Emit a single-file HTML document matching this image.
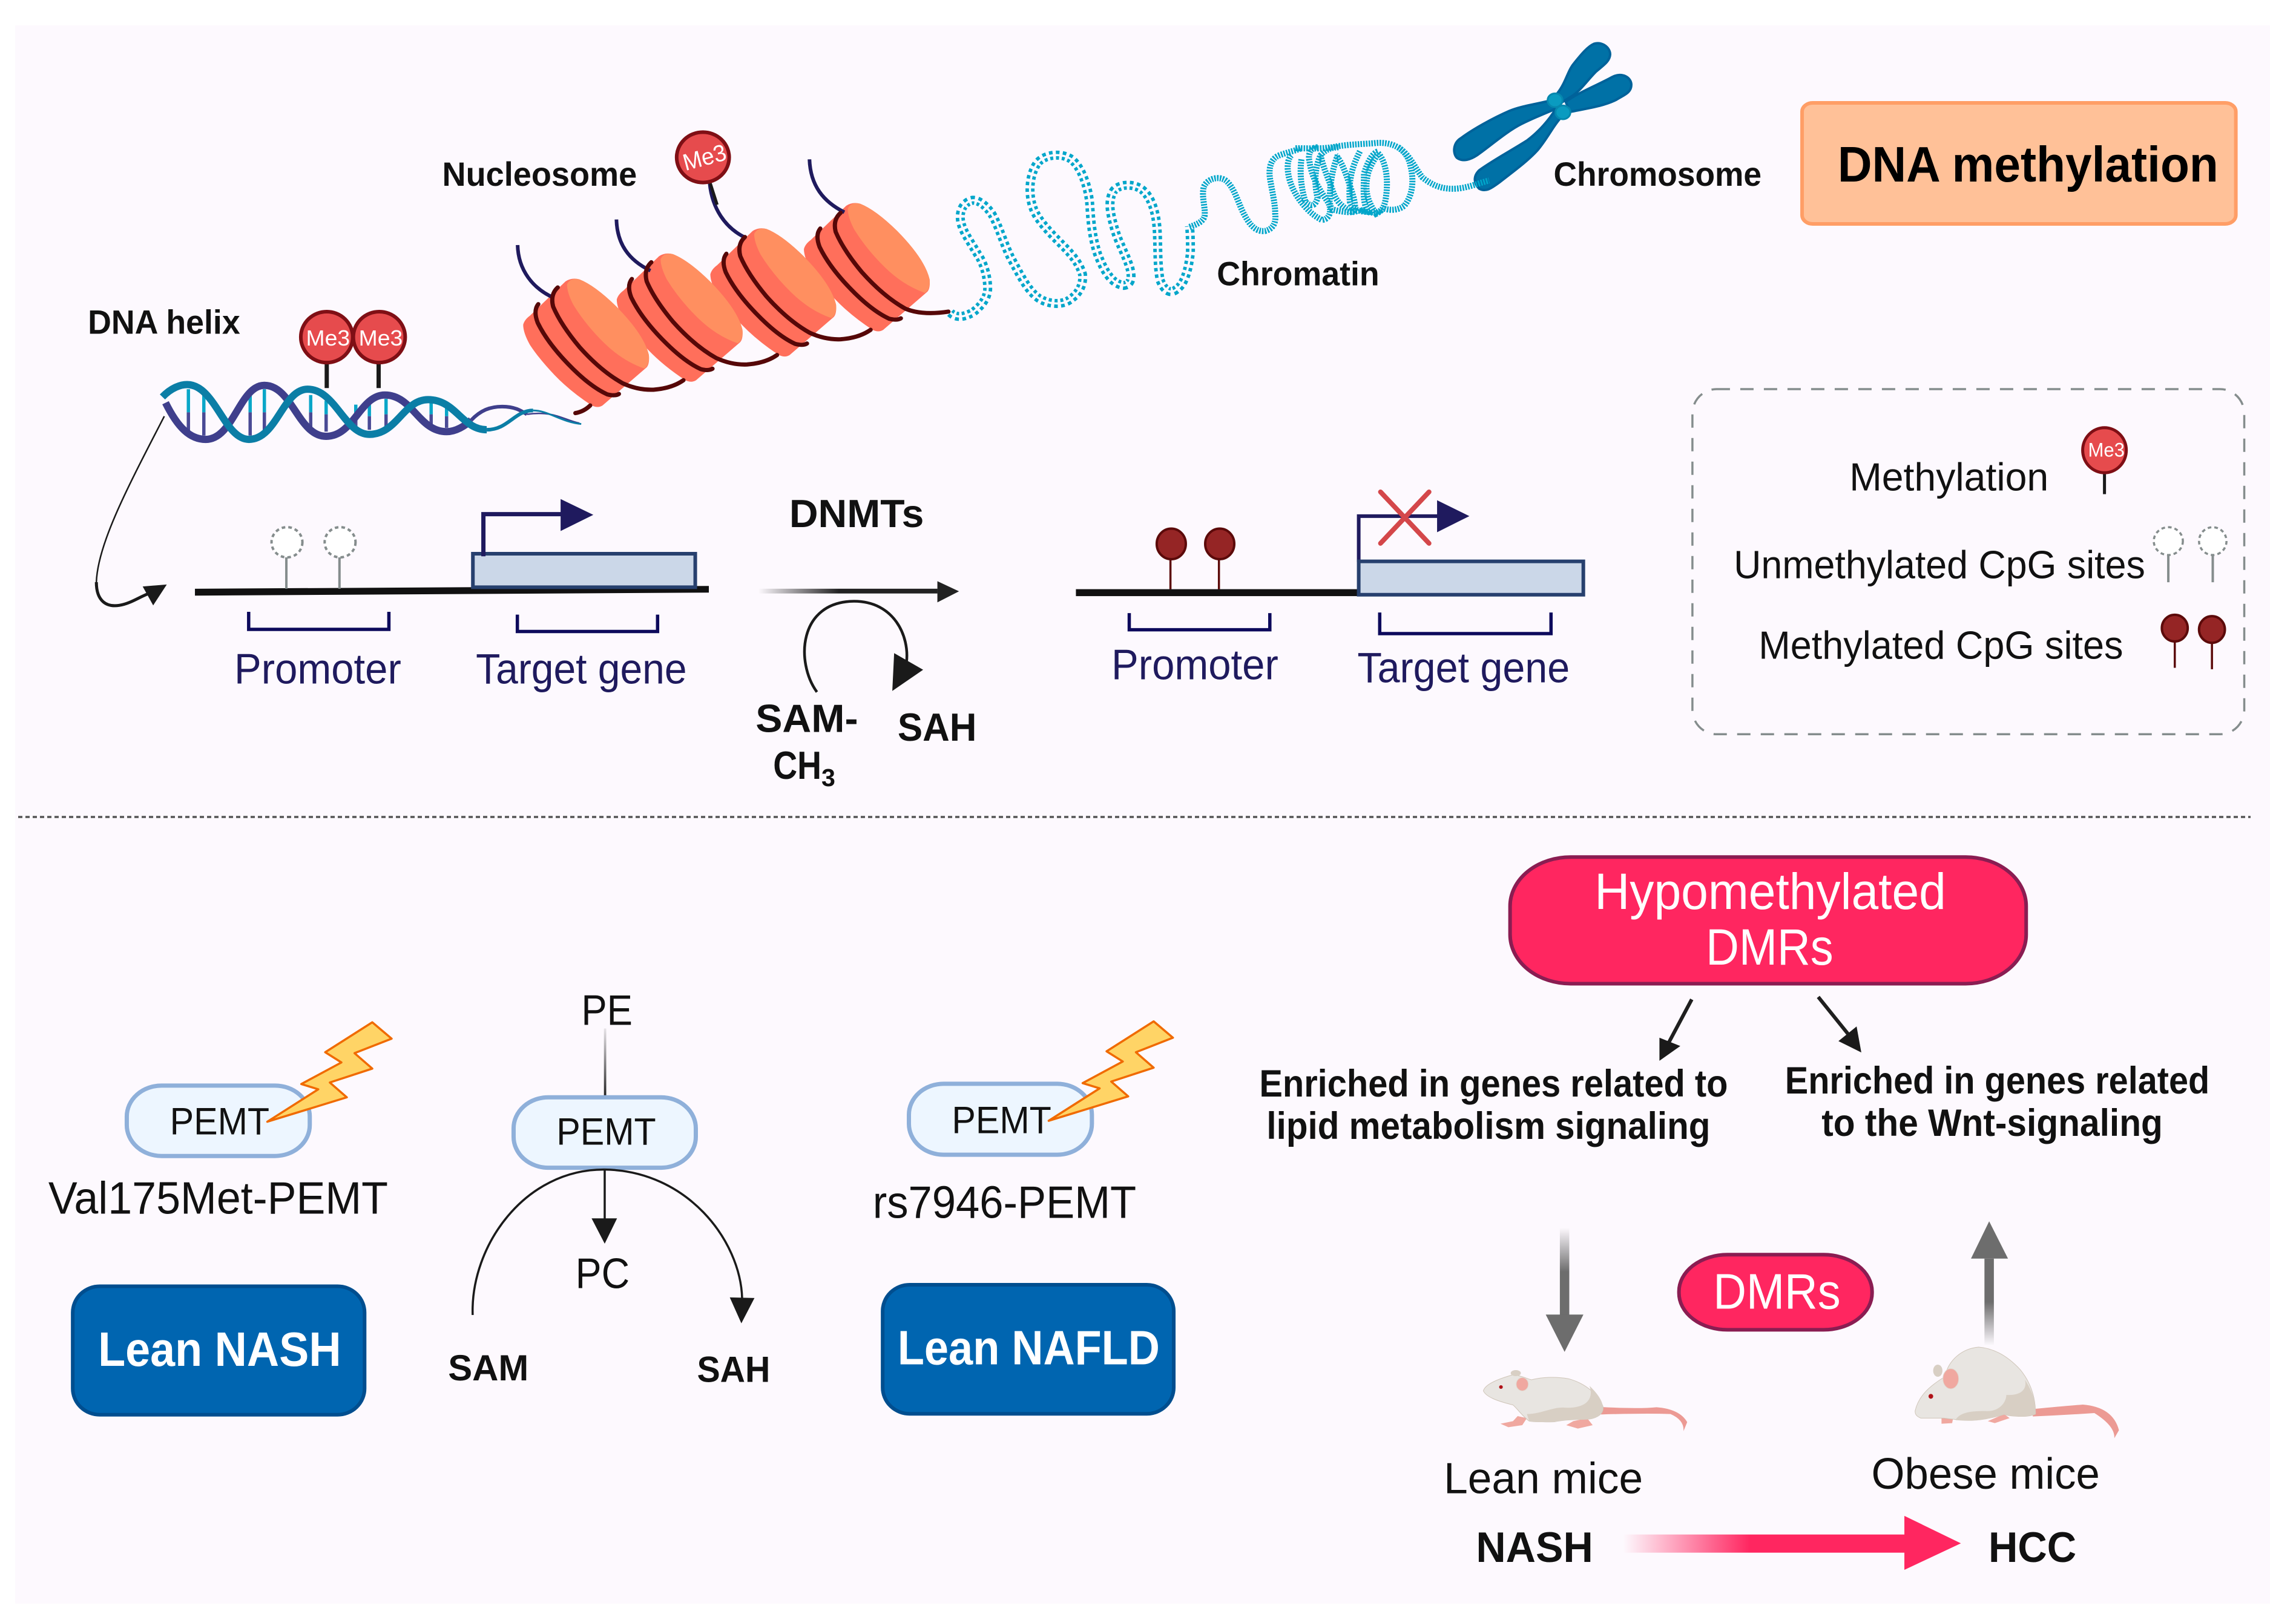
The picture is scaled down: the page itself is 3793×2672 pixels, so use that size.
<!DOCTYPE html>
<html><head><meta charset="utf-8"><style>
html,body{margin:0;padding:0;background:#fff}
svg{display:block}
path,line,rect,ellipse,polygon,polyline,circle{vector-effect:non-scaling-stroke}
text{font-family:"Liberation Sans",sans-serif}
.b{font-weight:bold;fill:#111}
.n{fill:#111}
.v{fill:#1f1a5e}
.w{fill:#fff}
</style></head><body>
<svg xmlns="http://www.w3.org/2000/svg" width="3793" height="2672" viewBox="0 0 3793 2672">
<defs>
<linearGradient id="gr" x1="0" x2="1" y1="0" y2="0"><stop offset="0" stop-color="#222" stop-opacity="0"/><stop offset=".45" stop-color="#222"/><stop offset="1" stop-color="#222"/></linearGradient>
<linearGradient id="pk" x1="0" x2="1" y1="0" y2="0"><stop offset="0" stop-color="#ff2660" stop-opacity="0"/><stop offset=".45" stop-color="#ff2660"/><stop offset="1" stop-color="#ff2660"/></linearGradient>
<linearGradient id="gd" x1="0" x2="0" y1="0" y2="1"><stop offset="0" stop-color="#6d6d6d" stop-opacity="0"/><stop offset=".5" stop-color="#6d6d6d"/><stop offset="1" stop-color="#6d6d6d"/></linearGradient>
<linearGradient id="gu" x1="0" x2="0" y1="1" y2="0"><stop offset="0" stop-color="#6d6d6d" stop-opacity="0"/><stop offset=".5" stop-color="#6d6d6d"/><stop offset="1" stop-color="#6d6d6d"/></linearGradient>
<linearGradient id="gk" x1="0" x2="0" y1="0" y2="1"><stop offset="0" stop-color="#222" stop-opacity=".1"/><stop offset="1" stop-color="#222"/></linearGradient>
</defs>
<rect width="3793" height="2672" fill="#fff"/>
<rect x="25" y="42" width="3725" height="2608" fill="#fdf9fe"/>

<!-- separator -->
<line x1="30" y1="1350" x2="3718" y2="1350" stroke="#555" stroke-width="3.5" stroke-dasharray="7 5"/>

<!-- helix etc (zoom 1 space) -->
<g transform="translate(100,50) scale(1.0204,.6378)">
 <g fill="none" stroke-width="5.5">
  <path stroke="#0aa6c8" d="M207,930V990M232,945V990M307,930V990M330,930V990M405,945V990M430,960V995M478,970V1000M500,970V1000M527,955V995M600,965V995M625,975V1000"/>
  <path stroke="#4a4a95" d="M207,990V1050M232,990V1050M307,990V1050M330,990V1050M405,990V1040M430,995V1040M478,1000V1035M500,1000V1035M527,995V1035M600,995V1030M625,1000V1030"/>
 </g>
 <path fill="none" stroke="#3f3f8c" stroke-width="12" d="M170,965 C190,1030 210,1060 235,1060 C280,1060 290,920 330,920 C375,920 385,1052 430,1052 C475,1052 485,945 525,945 C570,945 580,1040 625,1040 C640,1040 655,1025 665,1010"/>
 <path fill="none" stroke="#0b7ea6" stroke-width="12" d="M165,950 C180,925 195,918 205,918 C250,918 265,1060 305,1060 C350,1060 360,930 400,930 C445,930 460,1047 500,1047 C545,1047 555,957 595,957 C640,957 650,1035 690,1035"/>
 <path fill="none" stroke="#3f3f8c" stroke-width="6" d="M665,1010 C680,985 695,975 715,975 C735,975 745,985 755,995"/>
 <path fill="none" stroke="#0b7ea6" stroke-width="6" d="M690,1035 C725,1035 735,985 765,985"/>
 <path fill="none" stroke="#3f3f8c" stroke-width="2.5" d="M755,995 C800,985 815,1010 840,1018"/>
 <path fill="none" stroke="#0b7ea6" stroke-width="3" d="M765,985 C790,985 810,1015 843,1020"/>
 <!-- Me3 pair -->
 <path d="M431,860V927M515,860V927" stroke="#1a1a1a" stroke-width="7" fill="none"/>
 <ellipse cx="431" cy="795" rx="42" ry="66" fill="#e64b4d" stroke="#7f0f15" stroke-width="6"/>
 <ellipse cx="516" cy="795" rx="42" ry="66" fill="#e64b4d" stroke="#7f0f15" stroke-width="6"/>
 <!-- curved arrow -->
 <path fill="none" stroke="#1a1a1a" stroke-width="2.5" d="M168,1000 C110,1180 60,1330 58,1430"/>
 <path fill="none" stroke="#1a1a1a" stroke-width="5" d="M58,1430 C58,1480 75,1495 95,1490 C115,1485 130,1465 150,1455"/>
 <polygon points="172,1436 133,1441 150,1490" fill="#1a1a1a"/>
</g>

<!-- orange title box (zoom 2 space) -->
<g transform="translate(1500,30) scale(1.4624,.3571)" fill="none">
 <rect x="1010" y="392" width="490" height="560" rx="12" ry="40" fill="#ffc198" stroke="#ff9e66" stroke-width="6"/>
</g>

<!-- chromosome (crop C space) -->
<g transform="translate(2400,40) scale(.3333)" fill="#0071a6" stroke="#00629a" stroke-width="4">
 <path d="M520,340 C560,290 570,230 600,195 C640,145 670,110 700,97 C740,85 780,115 780,150 C778,185 745,205 710,235 C670,275 640,320 600,350 L545,385 Z"/>
 <path d="M560,385 C620,340 700,310 790,262 C840,235 885,265 885,300 C885,340 850,350 810,375 C750,405 680,415 580,435Z"/>
 <path d="M475,380 C420,395 340,405 280,430 C200,465 100,520 40,565 C0,590 0,640 20,662 C50,685 90,670 120,650 C190,600 270,530 340,495 C400,465 450,445 510,420Z"/>
 <path d="M510,420 C480,470 430,530 370,575 C300,620 190,680 130,725 C100,755 105,790 130,815 C165,835 195,810 230,785 C300,730 370,680 420,625 C470,565 495,510 530,470Z"/>
 <ellipse cx="507" cy="377" rx="37" ry="34" fill="#0a9bc0" stroke="#0688ae" stroke-width="3"/>
 <ellipse cx="546" cy="437" rx="37" ry="34" fill="#0a9bc0" stroke="#0688ae" stroke-width="3"/>
</g>

<!-- chromatin dotted (crop B space) -->
<g transform="translate(1570,230) scale(.3333)" fill="none">
 <path stroke="#00a6ca" stroke-width="15" stroke-dasharray="5.5 5" d="M0,860 C30,890 70,880 110,860 C150,830 185,790 185,740 C185,690 170,620 135,570 C100,510 55,450 50,400 C45,360 60,320 100,305 C130,295 170,320 205,370 C240,430 265,520 300,590 C340,660 380,750 440,790 C490,820 560,825 600,790 C640,760 660,720 655,670 C640,620 610,580 560,530 C500,470 430,400 410,340 C385,270 390,180 430,120 C465,75 550,65 600,100 C650,140 680,230 690,310 C695,390 700,480 730,570 C760,650 800,720 860,725 C900,720 900,680 890,640 C870,570 830,510 810,430 C790,360 780,300 810,255 C840,220 910,220 950,250 C1000,290 1020,370 1025,450 C1030,530 1025,620 1040,700 C1060,750 1090,770 1120,745 C1160,720 1180,650 1190,560 C1190,520 1190,470 1185,430"/>
 <path stroke="#fdf9fe" stroke-width="3.5" d="M0,860 C30,890 70,880 110,860 C150,830 185,790 185,740 C185,690 170,620 135,570 C100,510 55,450 50,400 C45,360 60,320 100,305 C130,295 170,320 205,370 C240,430 265,520 300,590 C340,660 380,750 440,790 C490,820 560,825 600,790 C640,760 660,720 655,670 C640,620 610,580 560,530 C500,470 430,400 410,340 C385,270 390,180 430,120 C465,75 550,65 600,100 C650,140 680,230 690,310 C695,390 700,480 730,570 C760,650 800,720 860,725 C900,720 900,680 890,640 C870,570 830,510 810,430 C790,360 780,300 810,255 C840,220 910,220 950,250 C1000,290 1020,370 1025,450 C1030,530 1025,620 1040,700 C1060,750 1090,770 1120,745 C1160,720 1180,650 1190,560 C1190,520 1190,470 1185,430"/>
</g>

<!-- chromatin coil (crop A space) -->
<g transform="translate(1960,200) scale(.3333)" fill="none" stroke="#00a6ca" stroke-width="10" stroke-dasharray="2.6 1.9">
 <path d="M15,525 C60,510 85,495 90,470 C95,430 75,380 85,330 C100,285 160,270 195,295 C240,330 260,420 290,470 C320,525 350,550 390,545 C430,535 445,505 440,460 C440,410 425,350 415,290 C405,230 420,185 460,170 C500,155 530,150 570,135"/>
 <path d="M520,170 C490,200 500,280 530,340 C560,400 610,460 670,490 C710,490 725,440 700,400 C660,340 620,280 610,200 C600,160 620,130 650,130"/>
 <path d="M570,190 C560,260 570,340 590,400 C620,430 640,420 650,380 C630,300 640,220 665,170 C690,140 720,130 760,130"/>
 <path d="M665,170 C680,240 710,300 730,360 C745,400 775,430 820,450 C850,440 830,380 810,320 C790,260 770,200 740,170"/>
 <path d="M750,170 C730,220 710,300 710,400 C715,430 720,440 730,440"/>
 <path d="M860,150 C830,210 800,280 810,400 C820,440 860,450 900,450 C870,400 880,330 880,260 C900,200 920,160 950,150"/>
 <path d="M950,160 C990,200 1005,300 985,400 C975,440 960,450 940,460 C900,400 880,350 900,260 C915,210 940,180 950,160"/>
 <path d="M930,110 C1010,100 1090,130 1110,220 C1130,300 1120,370 1080,420 C1040,450 990,440 970,430"/>
 <path d="M1050,130 C1110,170 1130,230 1170,280 C1220,320 1270,340 1340,335 C1400,330 1440,310 1500,295"/>
 <path d="M540,135 C620,135 680,140 750,125 C820,115 860,115 930,110"/>
 <path d="M730,440 C770,450 830,460 860,440 C890,450 930,465 970,440"/>
</g>

<!-- nucleosomes (zoom 7 space) -->
<g transform="translate(850,220) scale(.5102,.3333)">
 <g transform="translate(909,-375)">
  <path fill="#ff6f5b" d="M28,950 Q32,925 50,905 L165,735 Q185,715 210,725 Q260,755 330,860 Q420,1000 435,1100 Q438,1150 425,1165 L285,1350 Q270,1365 250,1350 Q180,1280 130,1200 Q80,1120 50,1050 Q28,990 28,950Z"/>
  <path fill="#ff8f60" d="M170,750 Q180,715 210,725 Q260,755 330,860 Q420,1000 435,1100 Q438,1150 420,1167 Q350,1130 290,1040 Q230,950 190,850 Q170,790 170,750Z"/>
 </g>
 <g transform="translate(606,-250)">
  <path fill="#ff6f5b" d="M28,950 Q32,925 50,905 L165,735 Q185,715 210,725 Q260,755 330,860 Q420,1000 435,1100 Q438,1150 425,1165 L285,1350 Q270,1365 250,1350 Q180,1280 130,1200 Q80,1120 50,1050 Q28,990 28,950Z"/>
  <path fill="#ff8f60" d="M170,750 Q180,715 210,725 Q260,755 330,860 Q420,1000 435,1100 Q438,1150 420,1167 Q350,1130 290,1040 Q230,950 190,850 Q170,790 170,750Z"/>
 </g>
 <g transform="translate(303,-125)">
  <path fill="#ff6f5b" d="M28,950 Q32,925 50,905 L165,735 Q185,715 210,725 Q260,755 330,860 Q420,1000 435,1100 Q438,1150 425,1165 L285,1350 Q270,1365 250,1350 Q180,1280 130,1200 Q80,1120 50,1050 Q28,990 28,950Z"/>
  <path fill="#ff8f60" d="M170,750 Q180,715 210,725 Q260,755 330,860 Q420,1000 435,1100 Q438,1150 420,1167 Q350,1130 290,1040 Q230,950 190,850 Q170,790 170,750Z"/>
 </g>
 <path fill="#ff6f5b" d="M28,950 Q32,925 50,905 L165,735 Q185,715 210,725 Q260,755 330,860 Q420,1000 435,1100 Q438,1150 425,1165 L285,1350 Q270,1365 250,1350 Q180,1280 130,1200 Q80,1120 50,1050 Q28,990 28,950Z"/>
 <path fill="#ff8f60" d="M170,750 Q180,715 210,725 Q260,755 330,860 Q420,1000 435,1100 Q438,1150 420,1167 Q350,1130 290,1040 Q230,950 190,850 Q170,790 170,750Z"/>
 <!-- tails -->
 <g fill="none" stroke="#1f1a5e" stroke-width="6">
  <path d="M10,555 C12,680 60,770 125,815"/>
  <path d="M330,428 C332,550 370,630 440,682"/>
  <path d="M632,250 C640,370 680,470 750,520"/>
  <path d="M955,130 C958,260 1000,340 1068,392"/>
 </g>
 <!-- wraps -->
 <g fill="none" stroke="#560808" stroke-width="7" stroke-linecap="round">
  <path d="M140,765 Q115,800 125,860 Q150,950 210,1060 Q280,1180 350,1240 Q400,1275 450,1272 Q510,1265 547,1225"/>
  <path d="M77,848 Q60,880 75,940 Q110,1050 190,1170 Q250,1260 300,1295 Q325,1305 338,1293"/>
  <path d="M245,1350 Q225,1380 197,1388"/>
  <path d="M443,640 Q418,675 428,735 Q453,825 513,935 Q583,1055 653,1115 Q703,1150 753,1147 Q813,1140 850,1100"/>
  <path d="M380,723 Q363,755 378,815 Q413,925 493,1045 Q553,1135 603,1170 Q628,1180 641,1168"/>
  <path d="M746,515 Q721,550 731,610 Q756,700 816,810 Q886,930 956,990 Q1006,1025 1056,1022 Q1116,1015 1153,975"/>
  <path d="M686,598 Q669,630 684,690 Q719,800 799,920 Q859,1010 909,1045 Q934,1055 947,1043"/>
  <path d="M1056,395 Q1030,430 1040,490 Q1065,580 1125,690 Q1195,810 1265,870 Q1320,905 1405,885"/>
  <path d="M990,473 Q973,505 988,565 Q1023,675 1103,795 Q1163,885 1213,920 Q1238,930 1251,918"/>
 </g>
 <!-- Me3 top -->
 <line x1="632" y1="240" x2="656" y2="355" stroke="#1a1a1a" stroke-width="5"/>
 <ellipse cx="610" cy="120" rx="85" ry="125" fill="#e64b4d" stroke="#7f0f15" stroke-width="6"/>
</g>

<!-- Gene 1 (zoom 3 space) -->
<g transform="translate(120,780) scale(1.0204,.3571)">
 <polygon points="198,540 1030,527 1030,558 198,572" fill="#111"/>
 <rect x="648" y="378" width="360" height="155" fill="#cbd7e8" stroke="#27406e" stroke-width="6"/>
 <path fill="none" stroke="#1f1a5e" stroke-width="7" d="M665,390V195H800"/>
 <polygon points="790,125 843,198 790,273" fill="#1f1a5e"/>
 <path d="M346,395V540M432,395V540" stroke="#858d8d" stroke-width="4"/>
 <ellipse cx="347" cy="325" rx="25" ry="70" fill="#fff" stroke="#858d8d" stroke-width="4" stroke-dasharray="6 5"/>
 <ellipse cx="433" cy="325" rx="25" ry="70" fill="#fff" stroke="#858d8d" stroke-width="4" stroke-dasharray="6 5"/>
 <path fill="none" stroke="#0d0a5c" stroke-width="5.5" d="M285,647V728H512V647M720,660V738H947V660"/>
 <rect x="1110" y="540" width="290" height="22" fill="url(#gr)"/>
 <polygon points="1400,505 1435,552 1400,603" fill="#222"/>
 <path fill="none" stroke="#1a1a1a" stroke-width="4.5" d="M1205,1018 C1170,880 1175,600 1265,598 C1330,598 1355,760 1350,880"/>
 <polygon points="1330,838 1377,915 1327,1013" fill="#1a1a1a"/>
</g>

<!-- Gene 2 + legend (zoom 4 space) -->
<g transform="translate(1700,620) scale(1.3348,.4592)">
 <rect x="58" y="770" width="352" height="25" fill="#111"/>
 <path fill="none" stroke="#1f1a5e" stroke-width="6" d="M408,672V507H510"/>
 <polygon points="505,450 545,507 505,565" fill="#1f1a5e"/>
 <rect x="408" y="670" width="278" height="120" fill="#cbd7e8" stroke="#27406e" stroke-width="6"/>
 <path d="M435,420L495,605M495,420L435,605" stroke="#d4474a" stroke-width="8" stroke-linecap="round" fill="none"/>
 <path d="M175,660V770M235,660V770" stroke="#5c0a0a" stroke-width="3.5"/>
 <ellipse cx="176" cy="607" rx="18" ry="55" fill="#952525" stroke="#5c0a0a" stroke-width="4"/>
 <ellipse cx="236" cy="607" rx="18" ry="55" fill="#952525" stroke="#5c0a0a" stroke-width="4"/>
 <path fill="none" stroke="#0d0a5c" stroke-width="5.5" d="M124,856V916H298V856M434,854V930H646V854"/>
 <rect x="821" y="50" width="683" height="1242" rx="30" ry="88" fill="none" stroke="#858d8d" stroke-width="3.5" stroke-dasharray="22 17"/>
 <line x1="1331" y1="345" x2="1331" y2="428" stroke="#1a1a1a" stroke-width="5"/>
 <ellipse cx="1331" cy="270" rx="27" ry="81" fill="#e64b4d" stroke="#7f0f15" stroke-width="5"/>
 <path d="M1410,645V745M1465,645V745" stroke="#858d8d" stroke-width="4"/>
 <ellipse cx="1410" cy="597" rx="18" ry="50" fill="#fff" stroke="#858d8d" stroke-width="3.5" stroke-dasharray="6 5"/>
 <ellipse cx="1465" cy="597" rx="17" ry="50" fill="#fff" stroke="#858d8d" stroke-width="3.5" stroke-dasharray="6 5"/>
 <path d="M1418,955V1053M1464,962V1058" stroke="#5c0a0a" stroke-width="3.5"/>
 <ellipse cx="1418" cy="910" rx="16" ry="48" fill="#952525" stroke="#5c0a0a" stroke-width="4"/>
 <ellipse cx="1464" cy="915" rx="16" ry="48" fill="#952525" stroke="#5c0a0a" stroke-width="4"/>
</g>

<!-- Bottom-left (zoom 5 space) -->
<g transform="translate(50,1600) scale(1.2755,.5102)">
 <rect x="743" y="195" width="3" height="220" fill="url(#gk)"/>
 <rect x="125" y="380" width="237" height="228" rx="45" ry="100" fill="#edf6ff" stroke="#8fb0da" stroke-width="7"/>
 <rect x="626" y="418" width="236" height="228" rx="45" ry="100" fill="#edf6ff" stroke="#8fb0da" stroke-width="7"/>
 <rect x="1138" y="374" width="237" height="230" rx="45" ry="100" fill="#edf6ff" stroke="#8fb0da" stroke-width="7"/>
 <polygon points="443,175 468,228 420,275 443,325 388,370 410,418 307,497 373,392 351,375 403,305 382,272" fill="#ffd466" stroke="#f06a00" stroke-width="3.5" stroke-linejoin="round"/>
 <polygon points="1455,172 1480,225 1432,272 1455,322 1400,367 1422,415 1319,494 1385,389 1363,372 1415,302 1394,269" fill="#ffd466" stroke="#f06a00" stroke-width="3.5" stroke-linejoin="round"/>
 <line x1="744" y1="650" x2="744" y2="815" stroke="#1a1a1a" stroke-width="3.5"/>
 <polygon points="727,810 760,810 744,892" fill="#1a1a1a"/>
 <path fill="none" stroke="#1a1a1a" stroke-width="3.5" d="M573,1123 C570,900 640,650 744,652 C850,655 920,880 922,1070"/>
 <polygon points="906,1066 938,1068 921,1150" fill="#1a1a1a"/>
 <rect x="55" y="1030" width="378" height="416" rx="35" ry="85" fill="#0065b0" stroke="#004e8f" stroke-width="6"/>
 <rect x="1104" y="1025" width="377" height="418" rx="35" ry="85" fill="#0065b0" stroke="#004e8f" stroke-width="6"/>
</g>

<!-- Bottom-right (zoom 6 space) -->
<g transform="translate(2050,1400) scale(1.1116,.8112)">
 <rect x="400" y="20" width="767" height="258" rx="90" ry="100" fill="#ff2660" stroke="#8a1d52" stroke-width="6"/>
 <rect x="651" y="830" width="287" height="153" rx="72" ry="75" fill="#ff2660" stroke="#8a1d52" stroke-width="6"/>
 <line x1="670" y1="310" x2="635" y2="400" stroke="#1f1f1f" stroke-width="6"/>
 <polygon points="622,435 622,388 653,405" fill="#1a1a1a"/>
 <line x1="858" y1="305" x2="905" y2="385" stroke="#1f1f1f" stroke-width="6"/>
 <polygon points="922,418 888,395 915,365" fill="#1a1a1a"/>
 <rect x="474" y="775" width="14" height="180" fill="url(#gd)"/>
 <polygon points="453,952 509,952 481,1028" fill="#6d6d6d"/>
 <rect x="1105" y="838" width="14" height="177" fill="url(#gu)"/>
 <polygon points="1085,838 1140,838 1112,762" fill="#6d6d6d"/>
 <rect x="568" y="1400" width="420" height="37" fill="url(#pk)"/>
 <polygon points="986,1362 1070,1418 986,1472" fill="#ff2660"/>
</g>

<!-- Mice (zoom 8 space) -->
<g transform="translate(2400,2200) scale(.7653,.3333)">
 <path fill="#ec9a94" d="M320,375 Q400,385 440,376 Q490,385 506,450 L498,495 Q500,440 470,410 Q420,405 320,412Z"/>
 <path fill="#f0a8a0" d="M140,420 L160,430 L150,465 L120,475 L103,458 L130,445Z M290,430 L302,465 L270,482 L245,465 L260,445Z"/>
 <path fill="#e8e5e1" stroke="#cfc5b8" stroke-width="1" d="M66,295 C70,260 100,235 130,215 C150,220 160,235 170,240 C195,225 225,225 250,235 C290,260 315,320 324,370 C328,410 310,430 295,435 C260,435 240,440 230,442 C200,450 180,450 165,445 C150,420 140,385 130,365 C95,345 72,325 66,295Z"/>
 <path fill="#d8cfc4" d="M295,270 C318,320 326,360 324,390 C318,425 305,433 290,437 C250,440 235,443 220,450 C195,452 180,450 165,445 L160,410 C190,410 215,375 240,378 C290,385 305,330 295,270Z"/>
 <ellipse cx="136" cy="207" rx="11" ry="15" fill="#d8cfc4"/>
 <ellipse cx="150" cy="262" rx="13" ry="33" fill="#f0a8a0" stroke="#e0d8cf" stroke-width="1"/>
 <ellipse cx="104" cy="276" rx="4" ry="9" fill="#b01218"/>
 <path fill="#ec9a94" d="M1252,385 Q1320,370 1360,363 Q1425,375 1438,490 L1428,530 Q1430,470 1385,405 Q1320,415 1252,422Z"/>
 <path fill="#f0a8a0" d="M1055,430 L1080,430 L1078,455 L1055,458Z M1190,410 L1202,430 L1170,455 L1155,445Z"/>
 <path fill="#e8e5e1" stroke="#cfc5b8" stroke-width="1" d="M998,395 C1005,320 1030,270 1062,225 C1070,140 1100,85 1135,78 C1175,85 1205,140 1225,190 C1250,260 1258,340 1258,410 C1240,430 1200,420 1190,412 C1140,450 1090,440 1060,430 L1010,430 C1000,420 998,410 998,395Z"/>
 <path fill="#d8cfc4" d="M1235,240 C1255,310 1258,360 1258,410 C1240,430 1200,420 1190,412 C1140,450 1110,445 1085,440 C1095,400 1120,395 1150,395 C1180,400 1195,350 1195,315 C1230,320 1240,280 1235,240Z"/>
 <ellipse cx="1047" cy="195" rx="10" ry="30" fill="#d8cfc4"/>
 <ellipse cx="1075" cy="235" rx="17" ry="50" fill="#f0a8a0" stroke="#e0d8cf" stroke-width="1"/>
 <ellipse cx="1032" cy="322" rx="5" ry="12" fill="#b01218"/>
</g>

<!-- Text in display coordinates -->
<g transform="scale(2.419,2.419)">
 <text class="b" x="302" y="127" font-size="23" textLength="133" lengthAdjust="spacingAndGlyphs">Nucleosome</text>
 <text class="b" x="60" y="228" font-size="23" textLength="104" lengthAdjust="spacingAndGlyphs">DNA helix</text>
 <text class="b" x="1061" y="127" font-size="23" textLength="142" lengthAdjust="spacingAndGlyphs">Chromosome</text>
 <text class="b" x="831" y="195" font-size="23" textLength="111" lengthAdjust="spacingAndGlyphs">Chromatin</text>
 <text class="b" x="1255" y="124" font-size="34" textLength="260" lengthAdjust="spacingAndGlyphs" style="fill:#000">DNA methylation</text>
 <text class="b" x="539" y="360" font-size="27" textLength="92" lengthAdjust="spacingAndGlyphs">DNMTs</text>
 <text class="v" x="160" y="467" font-size="29" textLength="114" lengthAdjust="spacingAndGlyphs">Promoter</text>
 <text class="v" x="325" y="467" font-size="29" textLength="144" lengthAdjust="spacingAndGlyphs">Target gene</text>
 <text class="b" x="516" y="500" font-size="27" textLength="70" lengthAdjust="spacingAndGlyphs">SAM-</text>
 <text class="b" x="528" y="532" font-size="27" textLength="33" lengthAdjust="spacingAndGlyphs">CH</text><text class="b" x="561" y="537" font-size="17">3</text>
 <text class="b" x="613" y="506" font-size="27" textLength="54" lengthAdjust="spacingAndGlyphs">SAH</text>
 <text class="v" x="759" y="464" font-size="29" textLength="114" lengthAdjust="spacingAndGlyphs">Promoter</text>
 <text class="v" x="927" y="466" font-size="29" textLength="145" lengthAdjust="spacingAndGlyphs">Target gene</text>
 <text class="n" x="1263" y="335" font-size="27" textLength="136" lengthAdjust="spacingAndGlyphs">Methylation</text>
 <text class="n" x="1184" y="395" font-size="27" textLength="281" lengthAdjust="spacingAndGlyphs">Unmethylated CpG sites</text>
 <text class="n" x="1201" y="450" font-size="27" textLength="249" lengthAdjust="spacingAndGlyphs">Methylated CpG sites</text>
 <text class="n" x="397" y="700" font-size="29" textLength="35" lengthAdjust="spacingAndGlyphs">PE</text>
 <text class="n" x="116" y="775" font-size="26" textLength="68" lengthAdjust="spacingAndGlyphs">PEMT</text>
 <text class="n" x="380" y="782" font-size="26" textLength="68" lengthAdjust="spacingAndGlyphs">PEMT</text>
 <text class="n" x="650" y="774" font-size="26" textLength="68" lengthAdjust="spacingAndGlyphs">PEMT</text>
 <text class="n" x="33" y="829" font-size="31" textLength="232" lengthAdjust="spacingAndGlyphs">Val175Met-PEMT</text>
 <text class="n" x="596" y="832" font-size="31" textLength="180" lengthAdjust="spacingAndGlyphs">rs7946-PEMT</text>
 <text class="n" x="393" y="880" font-size="29" textLength="37" lengthAdjust="spacingAndGlyphs">PC</text>
 <text class="b" x="306" y="943" font-size="25" textLength="55" lengthAdjust="spacingAndGlyphs">SAM</text>
 <text class="b" x="476" y="944" font-size="25" textLength="50" lengthAdjust="spacingAndGlyphs">SAH</text>
 <text class="b" x="67" y="933" font-size="33" textLength="166" lengthAdjust="spacingAndGlyphs" style="fill:#fff">Lean NASH</text>
 <text class="b" x="613" y="932" font-size="33" textLength="179" lengthAdjust="spacingAndGlyphs" style="fill:#fff">Lean NAFLD</text>
 <text class="w" x="1089" y="621" font-size="35" textLength="240" lengthAdjust="spacingAndGlyphs">Hypomethylated</text>
 <text class="w" x="1165" y="659" font-size="35" textLength="87" lengthAdjust="spacingAndGlyphs">DMRs</text>
 <text class="b" x="860" y="749" font-size="26" textLength="320" lengthAdjust="spacingAndGlyphs">Enriched in genes related to</text>
 <text class="b" x="865" y="778" font-size="26" textLength="303" lengthAdjust="spacingAndGlyphs">lipid metabolism signaling</text>
 <text class="b" x="1219" y="747" font-size="26" textLength="290" lengthAdjust="spacingAndGlyphs">Enriched in genes related</text>
 <text class="b" x="1244" y="776" font-size="26" textLength="233" lengthAdjust="spacingAndGlyphs">to the Wnt-signaling</text>
 <text class="w" x="1170" y="894" font-size="34" textLength="87" lengthAdjust="spacingAndGlyphs">DMRs</text>
 <text class="n" x="986" y="1020" font-size="30" textLength="136" lengthAdjust="spacingAndGlyphs">Lean mice</text>
 <text class="n" x="1278" y="1017" font-size="30" textLength="156" lengthAdjust="spacingAndGlyphs">Obese mice</text>
 <text class="b" x="1008" y="1067" font-size="29" textLength="80" lengthAdjust="spacingAndGlyphs">NASH</text>
 <text class="b" x="1358" y="1067" font-size="29" textLength="60" lengthAdjust="spacingAndGlyphs">HCC</text>
 <text class="w" x="209" y="236" font-size="15" textLength="30" lengthAdjust="spacingAndGlyphs">Me3</text>
 <text class="w" x="245" y="236" font-size="15" textLength="30" lengthAdjust="spacingAndGlyphs">Me3</text>
 <text class="w" x="466" y="113" font-size="16" textLength="30" lengthAdjust="spacingAndGlyphs" transform="rotate(-15 481 107)">Me3</text>
 <text class="w" x="1426" y="312" font-size="13.5" textLength="25" lengthAdjust="spacingAndGlyphs">Me3</text>
</g>
</svg>
</body></html>
